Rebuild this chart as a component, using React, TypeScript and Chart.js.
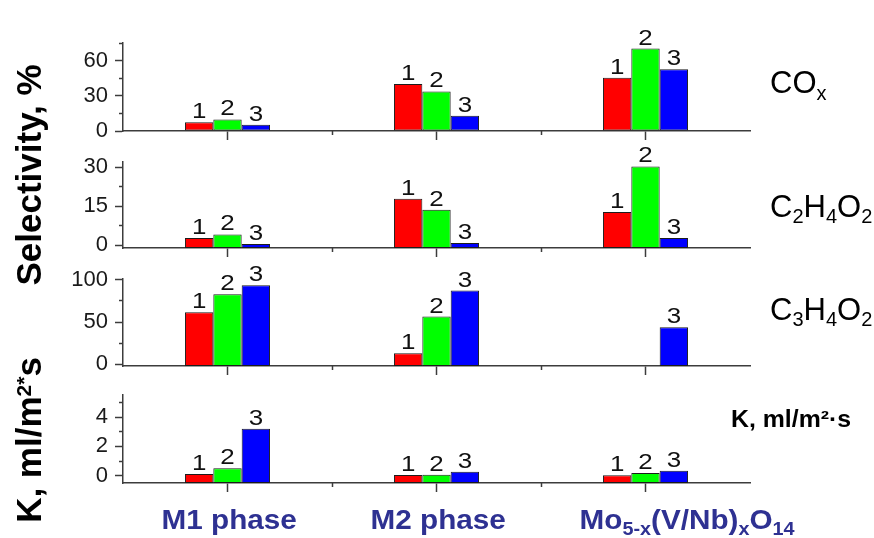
import React, { useEffect, useRef } from 'react';
import { Chart, registerables } from 'chart.js';

Chart.register(...registerables);

// ---------- data ----------
const categories = ['M1 phase', 'M2 phase', 'Mo5-x(V/Nb)xO14'];
const categoryPositions = [1, 2, 3];
const categoryBoundaries = [1.5, 2.5];
const seriesNames = ['1', '2', '3'];
const seriesColors = ['#ff0000', '#00ff00', '#0000ff'];

// Selectivity to COx, %
const coxSeries1 = [7.4, 40, 45.3];
const coxSeries2 = [9.9, 33.7, 70.3];
const coxSeries3 = [5.4, 13, 52.7];
const coxMajorTicks = [0, 30, 60];
const coxMinorTicks = [15, 45, 75];

// Selectivity to C2H4O2, %
const aceticSeries1 = [2.8, 17.9, 12.8];
const aceticSeries2 = [4.2, 13.7, 30.3];
const aceticSeries3 = [0.5, 0.9, 2.8];
const aceticMajorTicks = [0, 15, 30];
const aceticMinorTicks = [7.5, 22.5];

// Selectivity to C3H4O2, %
const acrylicSeries1 = [61.7, 13, null];
const acrylicSeries2 = [83, 56.5, null];
const acrylicSeries3 = [93.7, 87.3, 43.9];
const acrylicMajorTicks = [0, 50, 100];
const acrylicMinorTicks = [25, 75];

// K, ml/m2*s
const kSeries1 = [0.12, 0.05, 0.03];
const kSeries2 = [0.5, 0.07, 0.19];
const kSeries3 = [3.2, 0.27, 0.34];
const kMajorTicks = [0, 2, 4];
const kMinorTicks = [1, 3, 5];

// ---------- layout / style ----------
const W = 874;
const H = 538;
const PLOT_LEFT = 123;
const PLOT_RIGHT = 750;
const AXIS = '#3c3c3c';
const FONT = '"Liberation Sans", Arial, Helvetica, sans-serif';
const LABEL_BLUE = '#2e3192';

const panels = [
  { series: [coxSeries1, coxSeries2, coxSeries3], min: 0, max: 75, major: coxMajorTicks, minor: coxMinorTicks, top: 43, bottom: 131 },
  { series: [aceticSeries1, aceticSeries2, aceticSeries3], min: -1, max: 32, major: aceticMajorTicks, minor: aceticMinorTicks, top: 162, bottom: 248 },
  { series: [acrylicSeries1, acrylicSeries2, acrylicSeries3], min: -2, max: 101, major: acrylicMajorTicks, minor: acrylicMinorTicks, top: 279, bottom: 366 },
  { series: [kSeries1, kSeries2, kSeries3], min: -0.5, max: 5.5, major: kMajorTicks, minor: kMinorTicks, top: 395, bottom: 483 },
];

type Run = { t: string; font: string; dy: number };

function measureRuns(ctx: CanvasRenderingContext2D, runs: Run[]) {
  let w = 0;
  for (const r of runs) {
    ctx.font = r.font;
    w += ctx.measureText(r.t).width;
  }
  return w;
}

function drawRuns(ctx: CanvasRenderingContext2D, runs: Run[], x: number, y: number, sx: number, color: string, rotate = false, center = false) {
  ctx.save();
  ctx.fillStyle = color;
  ctx.textBaseline = 'alphabetic';
  ctx.textAlign = 'left';
  ctx.translate(x, y);
  ctx.scale(sx, 1);
  if (rotate) ctx.rotate(-Math.PI / 2);
  let cx = center ? -measureRuns(ctx, runs) / 2 : 0;
  for (const r of runs) {
    ctx.font = r.font;
    ctx.fillText(r.t, cx, r.dy);
    cx += ctx.measureText(r.t).width;
  }
  ctx.restore();
}

const barNumberPlugin = {
  id: 'barNumbers',
  afterDatasetsDraw(chart: any) {
    const ctx = chart.ctx;
    chart.data.datasets.forEach((ds: any, i: number) => {
      const meta = chart.getDatasetMeta(i);
      meta.data.forEach((el: any, j: number) => {
        const raw = ds.data[j];
        if (!raw || raw.y === null || raw.y === undefined) return;
        ctx.save();
        ctx.font = `22px ${FONT}`;
        ctx.fillStyle = '#111';
        ctx.textAlign = 'center';
        ctx.textBaseline = 'alphabetic';
        ctx.translate(el.x, el.y - 4);
        ctx.scale(1.18, 1);
        ctx.fillText(seriesNames[i], 0, 0);
        ctx.restore();
      });
    });
  },
};

const sub = (t: string, size: number, bold: boolean, dy: number): Run => ({ t, font: `${bold ? 'bold ' : ''}${size}px ${FONT}`, dy });

const categoryRuns: Run[][] = [
  [sub(categories[0], 27, true, 0)],
  [sub(categories[1], 27, true, 0)],
  [sub('Mo', 27, true, 0), sub('5-x', 18, true, 6), sub('(V/Nb)', 27, true, 0), sub('x', 18, true, 6), sub('O', 27, true, 0), sub('14', 18, true, 6)],
];

const decorPlugin = {
  id: 'decor',
  afterDraw(chart: any) {
    const ctx = chart.ctx as CanvasRenderingContext2D;
    // left axis titles
    drawRuns(ctx, [sub('Selectivity, %', 35, true, 0)], 41, 175, 1, '#000', true, true);
    drawRuns(ctx, [sub('K, ml/m', 35, true, 0), sub('2*', 21, true, -10), sub('s', 35, true, 0)], 41, 440, 1, '#000', true, true);
    // right labels
    drawRuns(ctx, [sub('CO', 31, false, 0), sub('x', 20, false, 7)], 770, 93, 1, '#000');
    drawRuns(ctx, [sub('C', 31, false, 0), sub('2', 20, false, 6), sub('H', 31, false, 0), sub('4', 20, false, 6), sub('O', 31, false, 0), sub('2', 20, false, 6)], 770, 217, 1, '#000');
    drawRuns(ctx, [sub('C', 31, false, 0), sub('3', 20, false, 6), sub('H', 31, false, 0), sub('4', 20, false, 6), sub('O', 31, false, 0), sub('2', 20, false, 6)], 770, 320, 1, '#000');
    drawRuns(ctx, [sub('K, ml/m²·s', 23, true, 0)], 731, 427, 1.08, '#000');
    // category labels
    const xs = chart.scales.x;
    categoryPositions.forEach((pos, j) => {
      drawRuns(ctx, categoryRuns[j], xs.getPixelForValue(pos) - 66, 529, 1.1, LABEL_BLUE);
    });
  },
};

function makeConfig(p: any, extra: any[]) {
  const tickGrid = (len: number) => ({
    drawOnChartArea: false,
    drawTicks: true,
    tickLength: len,
    tickColor: AXIS,
    tickWidth: 1.5,
    offset: false,
  });
  return {
    type: 'bar',
    data: {
      datasets: p.series.map((vals: (number | null)[], i: number) => ({
        label: seriesNames[i],
        data: categoryPositions.map((x, j) => ({ x, y: vals[j] })),
        backgroundColor: seriesColors[i],
        borderColor: '#1c1c1c',
        borderWidth: 1,
        borderSkipped: false,
        base: p.min,
        xAxisID: 'x',
        yAxisID: 'y',
        categoryPercentage: 0.407,
        barPercentage: 1,
      })),
    },
    options: {
      responsive: false,
      animation: false,
      devicePixelRatio: 1,
      events: [],
      layout: { padding: { left: 0, right: W - PLOT_RIGHT, top: p.top, bottom: H - p.bottom } },
      plugins: { legend: { display: false }, tooltip: { enabled: false }, title: { display: false } },
      scales: {
        x: {
          type: 'linear', position: 'bottom', min: 0.5, max: 3.5, offset: false, weight: 0,
          grid: tickGrid(9),
          border: { display: true, color: AXIS, width: 1.5 },
          ticks: { display: false },
          afterBuildTicks: (s: any) => { s.ticks = categoryPositions.map((v) => ({ value: v })); },
          afterFit: (s: any) => { s.height = 0; },
        },
        xMinor: {
          type: 'linear', position: 'bottom', min: 0.5, max: 3.5, offset: false, weight: 1,
          grid: tickGrid(4),
          border: { display: false },
          ticks: { display: false },
          afterBuildTicks: (s: any) => { s.ticks = categoryBoundaries.map((v) => ({ value: v })); },
          afterFit: (s: any) => { s.height = 0; },
        },
        y: {
          type: 'linear', position: 'left', min: p.min, max: p.max, weight: 1,
          grid: tickGrid(8),
          border: { display: true, color: AXIS, width: 1.5 },
          ticks: { display: true, font: { family: FONT, size: 22 }, color: '#1a1a1a', padding: 7, callback: (v: any) => String(v) },
          afterBuildTicks: (s: any) => { s.ticks = p.major.map((v: number) => ({ value: v })); },
          afterFit: (s: any) => { s.width = PLOT_LEFT; },
        },
        yMinor: {
          type: 'linear', position: 'left', min: p.min, max: p.max, weight: 0,
          grid: tickGrid(4),
          border: { display: false },
          ticks: { display: false },
          afterBuildTicks: (s: any) => { s.ticks = p.minor.map((v: number) => ({ value: v })); },
          afterFit: (s: any) => { s.width = 0; },
        },
      },
    },
    plugins: [barNumberPlugin, ...extra],
  };
}

export default function App() {
  const canvases = useRef<(HTMLCanvasElement | null)[]>([]);
  useEffect(() => {
    const charts = panels.map((p, i) =>
      new Chart(canvases.current[i] as HTMLCanvasElement, makeConfig(p, i === panels.length - 1 ? [decorPlugin] : []) as any)
    );
    return () => charts.forEach((c) => c.destroy());
  }, []);
  return (
    <div style={{ position: 'absolute', left: 0, top: 0, width: W, height: H, background: '#fff', overflow: 'hidden' }}>
      {panels.map((_, i) => (
        <canvas
          key={i}
          ref={(el) => { canvases.current[i] = el; }}
          width={W}
          height={H}
          style={{ position: 'absolute', left: 0, top: 0, display: 'block' }}
        />
      ))}
    </div>
  );
}
